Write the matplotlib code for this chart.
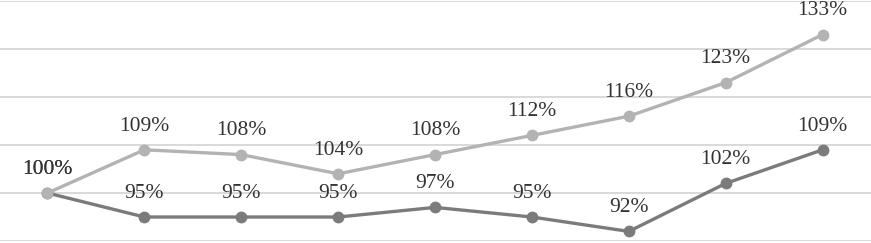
import numpy as np
import matplotlib.pyplot as plt

# index values per period (first period = 100%)
periods = list(range(9))
light_vals = [100, 109, 108, 104, 108, 112, 116, 123, 133]
dark_vals = [100, 95, 95, 95, 97, 95, 92, 102, 109]

light_col = '#b3b3b3'
dark_col = '#7b7b7b'

plt.rcParams['font.family'] = ['Liberation Serif', 'DejaVu Serif']

fig = plt.figure(figsize=(8.71, 2.43), dpi=100)
ax = fig.add_axes([0, 0.0082, 1, 0.9877])

# horizontal gridlines
for yv in np.arange(90, 141, 10):
    ax.axhline(yv, color='#d9d9d9', lw=1.4, zorder=0)

ax.plot(periods, dark_vals, color=dark_col, lw=2.4, marker='o', ms=7.5, zorder=3)
ax.plot(periods, light_vals, color=light_col, lw=2.4, marker='o', ms=7.5, zorder=4)

# data labels
for x, v in zip(periods, dark_vals):
    ax.annotate(f'{v}%', (x, v), xytext=(0, 17), textcoords='offset points',
                ha='center', va='center', fontsize=15.5, color='#333333')
for x, v in zip(periods, light_vals):
    ax.annotate(f'{v}%', (x, v), xytext=(0, 17), textcoords='offset points',
                ha='center', va='center', fontsize=15.5, color='#333333')

ax.set_xlim(-0.49, 8.5)
ax.set_ylim(90, 140)
ax.axis('off')

fig.savefig('out.png', dpi=100)
